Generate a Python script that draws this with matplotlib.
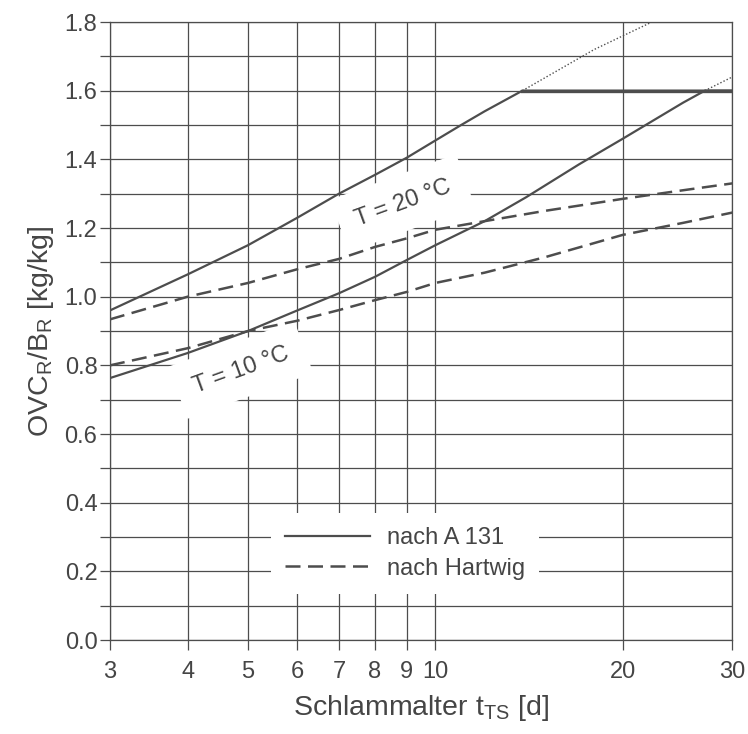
import matplotlib
matplotlib.use("Agg")
import matplotlib.pyplot as plt
from matplotlib.ticker import FixedLocator, NullLocator, MultipleLocator, FormatStrFormatter

# Daten
t_a131_20 = [3, 4, 5, 6, 7, 8, 9, 10, 11, 12, 13.8, 30]
ovc_a131_20 = [0.96, 1.065, 1.15, 1.23, 1.30, 1.355, 1.405, 1.455, 1.50, 1.54, 1.60, 1.60]
t_a131_20_ext = [13.8, 18, 23.5]
ovc_a131_20_ext = [1.60, 1.72, 1.82]

t_a131_10 = [3, 4, 5, 6, 7, 8, 9, 10, 12, 14, 17, 20, 25, 27.1, 30]
ovc_a131_10 = [0.763, 0.836, 0.90, 0.96, 1.01, 1.058, 1.107, 1.15, 1.22, 1.29, 1.385, 1.46, 1.565, 1.60, 1.60]
t_a131_10_ext = [27.1, 30]
ovc_a131_10_ext = [1.60, 1.64]

t_hartwig = [3, 4, 5, 6, 7, 8, 9, 10, 12, 15, 20, 25, 30]
ovc_hartwig_20 = [0.934, 1.0, 1.04, 1.08, 1.11, 1.145, 1.17, 1.195, 1.22, 1.25, 1.285, 1.31, 1.33]
ovc_hartwig_10 = [0.80, 0.85, 0.90, 0.93, 0.961, 0.99, 1.014, 1.04, 1.07, 1.115, 1.18, 1.215, 1.245]

x_ticks = [3, 4, 5, 6, 7, 8, 9, 10, 20, 30]

plt.rcParams['font.family'] = ['Liberation Sans', 'DejaVu Sans']
grau = '#4d4d4d'
textgrau = '#454545'

fig = plt.figure(figsize=(7.48, 7.34), dpi=100, facecolor='white')
ax = fig.add_axes([0.147, 0.128, 0.832, 0.842])

ax.set_xscale('log')
ax.set_xlim(3, 30)
ax.set_ylim(0, 1.8)

ax.xaxis.set_major_locator(FixedLocator(x_ticks))
ax.xaxis.set_minor_locator(NullLocator())
ax.xaxis.set_major_formatter(FormatStrFormatter('%d'))
ax.yaxis.set_major_locator(MultipleLocator(0.2))
ax.yaxis.set_minor_locator(MultipleLocator(0.1))
ax.yaxis.set_major_formatter(FormatStrFormatter('%.1f'))

ax.set_axisbelow(True)
ax.grid(True, which='both', color=grau, lw=0.9)
for s in ax.spines.values():
    s.set_color(grau)
    s.set_linewidth(0.9)
ax.tick_params(which='both', direction='out', length=7, width=0.9, color=grau,
               labelcolor=textgrau, labelsize=17)
ax.tick_params(axis='x', pad=8)
ax.tick_params(axis='y', pad=2)

# Kurven
kw = dict(color=grau, lw=1.6, zorder=3)
ax.plot(t_a131_20, ovc_a131_20, '-', label='nach A 131', **kw)
ax.plot(t_a131_10, ovc_a131_10, '-', **kw)
# Plateau bei 1,6 etwas kraeftiger (beide Kurven liegen dort uebereinander)
ax.plot(t_a131_20[-2:], ovc_a131_20[-2:], color=grau, lw=2.4, zorder=3)
ax.plot(t_a131_20_ext, ovc_a131_20_ext, color=grau, lw=1.0, dashes=(1, 1.5), zorder=3)
ax.plot(t_a131_10_ext, ovc_a131_10_ext, color=grau, lw=1.0, dashes=(1, 1.5), zorder=3)
ax.plot(t_hartwig, ovc_hartwig_20, color=grau, lw=1.8, dashes=(6, 3), label='nach Hartwig', zorder=3)
ax.plot(t_hartwig, ovc_hartwig_10, color=grau, lw=1.8, dashes=(6, 3), zorder=3)

box = dict(facecolor='white', edgecolor='none', pad=12)
ax.text(8.86, 1.273, 'T = 20 °C', rotation=20, ha='center', va='center', fontsize=17,
        color=textgrau, bbox=box, zorder=2.5, rotation_mode='anchor')
ax.text(4.87, 0.787, 'T = 10 °C', rotation=20, ha='center', va='center', fontsize=17,
        color=textgrau, bbox=box, zorder=2.5, rotation_mode='anchor')

leg = ax.legend(loc='center', bbox_to_anchor=(0.474, 0.14), fontsize=17, frameon=True,
                handlelength=3.6, labelspacing=0.35, borderpad=0.6, handletextpad=0.7,
                fancybox=False)
leg.get_frame().set_facecolor('white')
leg.get_frame().set_edgecolor('none')
leg.get_frame().set_alpha(1)
for txt in leg.get_texts():
    txt.set_color(textgrau)

ax.set_xlabel(r'Schlammalter t$_\mathregular{TS}$ [d]', fontsize=20.5, color=textgrau, labelpad=7)
ax.set_ylabel(r'OVC$_\mathregular{R}$/B$_\mathregular{R}$ [kg/kg]', fontsize=20.5, color=textgrau, labelpad=6)

fig.savefig('out.png', dpi=100, facecolor='white')
